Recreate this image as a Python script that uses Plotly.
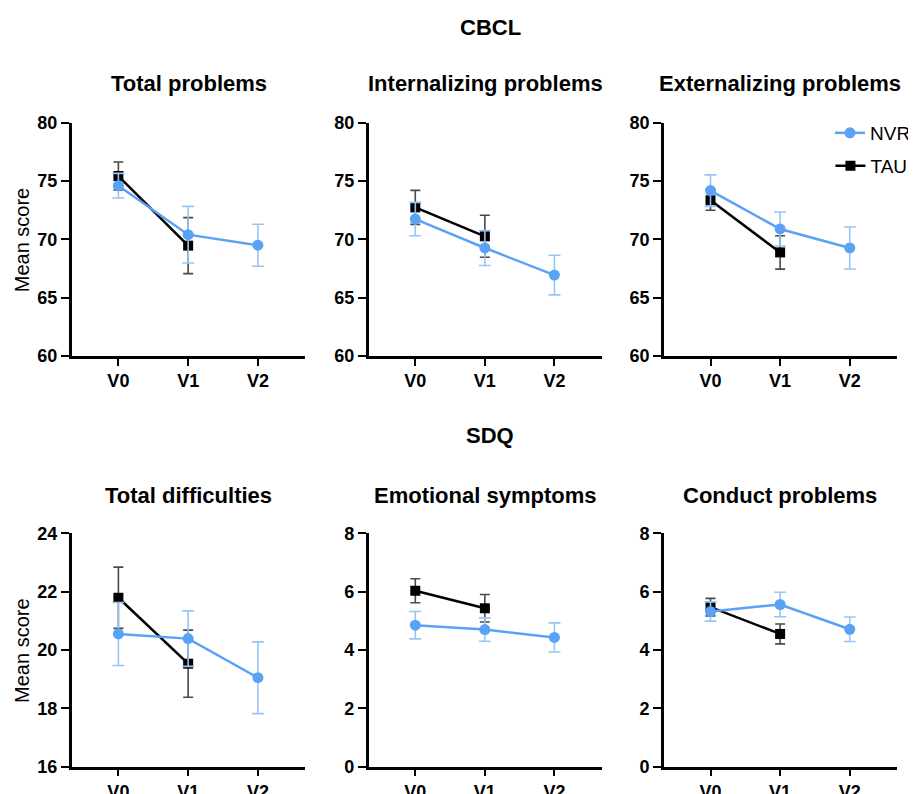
import plotly.graph_objects as go

# page body adds an 8px margin; the figure is sized to fit the 916x794 window
PAGE_OFFSET = 8
W, H = 916 - PAGE_OFFSET, 794 - PAGE_OFFSET

# ---------------- data ----------------
visits = ["V0", "V1", "V2"]
panel_titles = ["Total problems", "Internalizing problems", "Externalizing problems",
                "Total difficulties", "Emotional symptoms", "Conduct problems"]
section_titles = ["CBCL", "SDQ"]

nvr_total_problems = [74.6, 70.4, 69.5]
nvr_total_problems_err = [1.06, 2.43, 1.8]
tau_total_problems = [75.43, 69.46]
tau_total_problems_err = [1.2, 2.4]

nvr_internalizing = [71.74, 69.26, 66.94]
nvr_internalizing_err = [1.43, 1.5, 1.7]
tau_internalizing = [72.74, 70.26]
tau_internalizing_err = [1.46, 1.8]

nvr_externalizing = [74.18, 70.89, 69.26]
nvr_externalizing_err = [1.35, 1.46, 1.8]
tau_externalizing = [73.35, 68.88]
tau_externalizing_err = [0.85, 1.43]

nvr_total_difficulties = [20.55, 20.39, 19.05]
nvr_total_difficulties_err = [1.08, 0.95, 1.23]
tau_total_difficulties = [21.79, 19.53]
tau_total_difficulties_err = [1.05, 1.15]

nvr_emotional = [4.85, 4.70, 4.43]
nvr_emotional_err = [0.47, 0.4, 0.5]
tau_emotional = [6.03, 5.43]
tau_emotional_err = [0.41, 0.47]

nvr_conduct = [5.32, 5.56, 4.71]
nvr_conduct_err = [0.33, 0.42, 0.42]
tau_conduct = [5.47, 4.55]
tau_conduct_err = [0.3, 0.34]

y_ranges = [[60, 80], [60, 80], [60, 80], [16, 24], [0, 8], [0, 8]]
y_dticks = [5, 5, 5, 2, 2, 2]

nvr_means = [nvr_total_problems, nvr_internalizing, nvr_externalizing,
             nvr_total_difficulties, nvr_emotional, nvr_conduct]
nvr_errs = [nvr_total_problems_err, nvr_internalizing_err, nvr_externalizing_err,
            nvr_total_difficulties_err, nvr_emotional_err, nvr_conduct_err]
tau_means = [tau_total_problems, tau_internalizing, tau_externalizing,
             tau_total_difficulties, tau_emotional, tau_conduct]
tau_errs = [tau_total_problems_err, tau_internalizing_err, tau_externalizing_err,
            tau_total_difficulties_err, tau_emotional_err, tau_conduct_err]

# ---------------- style ----------------
BLUE = "#5AA2F6"
BLUE_ERR = "#96C5F8"
BLACK = "#000000"
BLACK_ERR = "#4a4a4a"
FONT = "Liberation Sans, Arial, sans-serif"

def px_x(x):
    return (x - PAGE_OFFSET) / W

def px_y(y):
    return 1 - (y - PAGE_OFFSET) / H

col_px = [(72, 307), (370.7, 605), (667.5, 902)]
row_px = [(122.7, 356), (533.3, 766.7)]

fig = go.Figure()

for i in range(6):
    r, c = divmod(i, 3)
    ax = "" if i == 0 else str(i + 1)
    xref, yref = "x" + ax, "y" + ax
    # TAU first (drawn underneath)
    fig.add_trace(go.Scatter(
        x=visits[:len(tau_means[i])], y=tau_means[i], name="TAU",
        mode="lines+markers", xaxis=xref, yaxis=yref,
        line=dict(color=BLACK, width=2.5),
        marker=dict(symbol="square", size=10, color=BLACK),
        error_y=dict(type="data", array=tau_errs[i], color=BLACK_ERR, thickness=1.6, width=5),
        showlegend=(i == 0), legend="legend2", cliponaxis=False,
    ))
    fig.add_trace(go.Scatter(
        x=visits[:len(nvr_means[i])], y=nvr_means[i], name="NVR",
        mode="lines+markers", xaxis=xref, yaxis=yref,
        line=dict(color=BLUE, width=2.5),
        marker=dict(symbol="circle", size=11, color=BLUE),
        error_y=dict(type="data", array=nvr_errs[i], color=BLUE_ERR, thickness=1.6, width=6),
        showlegend=(i == 0), legend="legend", cliponaxis=False,
    ))
    x0, x1 = col_px[c]
    y0, y1 = row_px[r]
    xa = dict(
        domain=[px_x(x0), px_x(x1)], anchor=yref, type="category",
        categoryorder="array", categoryarray=visits,
        range=[-0.67, 2.68], showline=True, linecolor="black", linewidth=2.5,
        ticks="outside", ticklen=7, tickwidth=2, tickcolor="black",
        tickfont=dict(family=FONT, size=18, color="black", weight="bold"),
        showgrid=False, zeroline=False, fixedrange=True, automargin=False,
    )
    ya = dict(
        domain=[px_y(y1), px_y(y0)], anchor=xref,
        range=y_ranges[i], dtick=y_dticks[i], tick0=0,
        showline=True, linecolor="black", linewidth=2.5,
        ticks="outside", ticklen=8, tickwidth=2, tickcolor="black",
        tickfont=dict(family=FONT, size=18, color="black", weight="bold"),
        showgrid=False, zeroline=False, fixedrange=True, automargin=False,
    )
    fig.layout["xaxis" + ax] = xa
    fig.layout["yaxis" + ax] = ya

annotations = []
# section titles
for t, y in zip(section_titles, [27, 435]):
    annotations.append(dict(text=t, x=px_x(493), y=px_y(y), xref="paper", yref="paper",
                            showarrow=False, xanchor="center", yanchor="middle",
                            font=dict(family=FONT, size=22, color="black", weight="bold")))
# panel titles
title_y = [84, 495]
for i, t in enumerate(panel_titles):
    r, c = divmod(i, 3)
    cx = (col_px[c][0] + col_px[c][1]) / 2
    annotations.append(dict(text=t, x=px_x(cx), y=px_y(title_y[r]), xref="paper", yref="paper",
                            showarrow=False, xanchor="center", yanchor="middle",
                            font=dict(family=FONT, size=22, color="black", weight="bold")))
# y-axis titles
for r in range(2):
    cy = (row_px[r][0] + row_px[r][1]) / 2
    annotations.append(dict(text="Mean score", x=px_x(22), y=px_y(cy), xref="paper", yref="paper",
                            showarrow=False, xanchor="center", yanchor="middle", textangle=-90,
                            font=dict(family=FONT, size=20, color="black")))

legend_style = dict(xanchor="left", yanchor="middle",
                    font=dict(family=FONT, size=19, color="black"),
                    bgcolor="rgba(0,0,0,0)")

fig.update_layout(
    template="none",
    width=W, height=H,
    margin=dict(l=0, r=0, t=0, b=0),
    paper_bgcolor="white", plot_bgcolor="white",
    annotations=annotations,
    legend=dict(x=px_x(835), y=px_y(133), **legend_style),
    legend2=dict(x=px_x(835), y=px_y(166), **legend_style),
    showlegend=True,
)

fig.write_html("out.html")
